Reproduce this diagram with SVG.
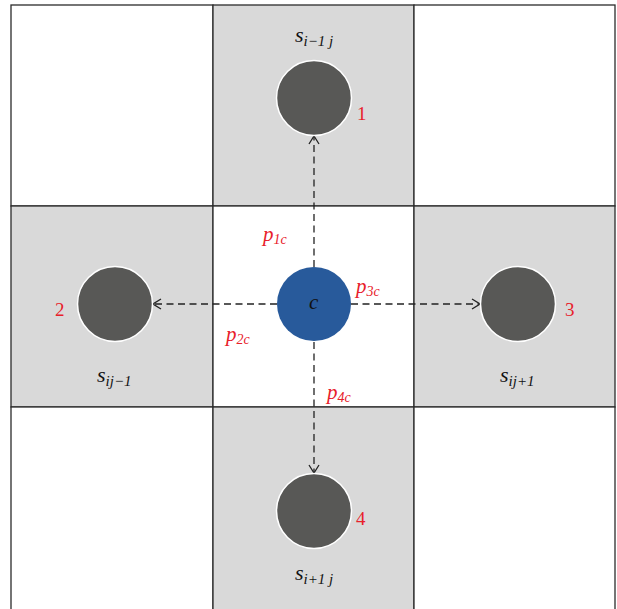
<svg xmlns="http://www.w3.org/2000/svg" width="617" height="609" viewBox="0 0 617 609">
<style>
.cell{stroke:#2b2b2b;stroke-width:1.3}
.g{fill:#d9d9d9}
.w{fill:#ffffff}
.nb{fill:#585856;stroke:#ffffff;stroke-width:1.5}
.ctr{fill:#285a9b}
.lab{font-family:"Liberation Serif",serif;font-style:italic;fill:#111111}
.red{font-family:"Liberation Serif",serif;fill:#e8202a}
.redi{font-family:"Liberation Serif",serif;font-style:italic;fill:#e8202a}
.con{stroke:#222;stroke-width:1.3;stroke-dasharray:7,4.5;fill:none;marker-end:url(#ah)}
</style>
<defs>
<marker id="ah" viewBox="0 0 10 12" refX="9" refY="6" markerWidth="10" markerHeight="12" markerUnits="userSpaceOnUse" orient="auto">
<path d="M1,1 L9,6 L1,11" fill="none" stroke="#222" stroke-width="1.3"/>
</marker>
</defs>
<rect width="617" height="609" fill="#ffffff"/>
<g id="grid">
<rect class="cell w" x="11" y="5" width="202" height="201"/>
<rect class="cell g" x="213" y="5" width="201" height="201"/>
<rect class="cell w" x="414" y="5" width="201" height="201"/>
<rect class="cell g" x="11" y="206" width="202" height="201"/>
<rect class="cell w" x="213" y="206" width="201" height="201"/>
<rect class="cell g" x="414" y="206" width="201" height="201"/>
<rect class="cell w" x="11" y="407" width="202" height="204"/>
<rect class="cell g" x="213" y="407" width="201" height="204"/>
<rect class="cell w" x="414" y="407" width="201" height="204"/>
</g>
<g id="connectors">
<line class="con" x1="314" y1="267" x2="314" y2="136"/>
<line class="con" x1="277" y1="304" x2="153" y2="304"/>
<line class="con" x1="351" y1="304" x2="480" y2="304"/>
<line class="con" x1="314" y1="342" x2="314" y2="473"/>
</g>
<g id="n1">
<circle class="nb" cx="314" cy="98" r="37.5"/>
<text class="lab" x="295" y="42" font-size="22">s<tspan font-size="15" dy="4">i−1 j</tspan></text>
<text class="red" x="357" y="120" font-size="19">1</text>
</g>
<g id="n2">
<circle class="nb" cx="115" cy="304" r="37.5"/>
<text class="lab" x="97" y="382" font-size="22">s<tspan font-size="15" dy="4">ij−1</tspan></text>
<text class="red" x="55" y="316" font-size="19">2</text>
</g>
<g id="n3">
<circle class="nb" cx="518" cy="304" r="37.5"/>
<text class="lab" x="500" y="382" font-size="22">s<tspan font-size="15" dy="4">ij+1</tspan></text>
<text class="red" x="565" y="316" font-size="19">3</text>
</g>
<g id="n4">
<circle class="nb" cx="314" cy="511" r="37.5"/>
<text class="lab" x="295" y="580" font-size="22">s<tspan font-size="15" dy="4">i+1 j</tspan></text>
<text class="red" x="356" y="525" font-size="19">4</text>
</g>
<g id="c">
<circle class="ctr" cx="314" cy="304" r="37"/>
<text class="lab" x="309" y="309" font-size="21">c</text>
</g>
<g id="plabels">
<text class="redi" x="263" y="241" font-size="21">p<tspan font-size="14" dy="3">1c</tspan></text>
<text class="redi" x="226" y="341" font-size="21">p<tspan font-size="14" dy="3">2c</tspan></text>
<text class="redi" x="356" y="293" font-size="21">p<tspan font-size="14" dy="3">3c</tspan></text>
<text class="redi" x="327" y="399" font-size="21">p<tspan font-size="14" dy="3">4c</tspan></text>
</g>
</svg>
